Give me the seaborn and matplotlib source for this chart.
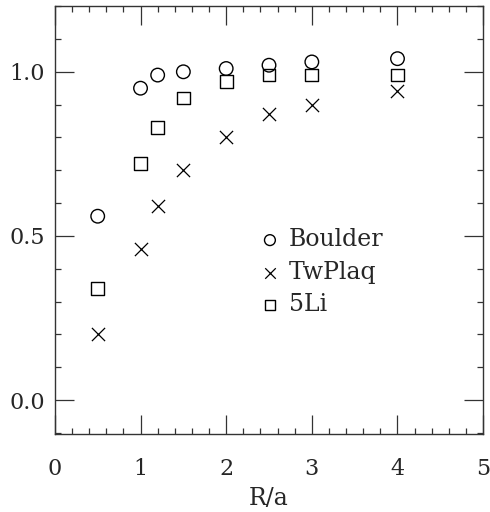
import numpy as np
import pandas as pd
import matplotlib
matplotlib.use('Agg')
import matplotlib.pyplot as plt
from matplotlib.ticker import MultipleLocator, FormatStrFormatter
import seaborn as sns

sns.set_style('ticks')
plt.rcParams['font.family'] = ['DejaVu Serif']

# data
r_over_a = [0.5, 1.0, 1.2, 1.5, 2.0, 2.5, 3.0, 4.0]
boulder = [0.56, 0.95, 0.99, 1.00, 1.01, 1.02, 1.03, 1.04]
twplaq = [0.20, 0.46, 0.59, 0.70, 0.80, 0.87, 0.90, 0.94]
li5 = [0.34, 0.72, 0.83, 0.92, 0.97, 0.99, 0.99, 0.99]
series_names = ['Boulder', 'TwPlaq', '5Li']

df = pd.DataFrame({
    'R/a': r_over_a * 3,
    'value': boulder + twplaq + li5,
    'series': np.repeat(series_names, len(r_over_a)),
})

fig = plt.figure(figsize=(4.9, 5.12), dpi=100)
ax = fig.add_axes([0.112, 0.152, 0.874, 0.836])

styles = {'Boulder': 'o', 'TwPlaq': 'x', '5Li': 's'}
for name in series_names:
    sub = df[df['series'] == name]
    m = styles[name]
    if m == 'x':
        sns.scatterplot(data=sub, x='R/a', y='value', marker='x', color='black',
                        s=90, linewidth=0.9, ax=ax, label=name)
    else:
        sns.scatterplot(data=sub, x='R/a', y='value', marker=m, facecolor='none',
                        edgecolor='black', s=95 if m == 'o' else 85,
                        linewidth=1.0, ax=ax, label=name)

ax.set_xlim(0, 5)
ax.set_ylim(-0.104, 1.2)
ax.xaxis.set_major_locator(MultipleLocator(1))
ax.xaxis.set_minor_locator(MultipleLocator(0.2))
ax.yaxis.set_major_locator(MultipleLocator(0.5))
ax.yaxis.set_minor_locator(MultipleLocator(0.1))
ax.yaxis.set_major_formatter(FormatStrFormatter('%.1f'))
ax.tick_params(which='both', direction='in', top=True, right=True,
               labelsize=16, color='#333333', width=0.9)
ax.tick_params(which='major', length=14)
ax.tick_params(which='minor', length=4)
ax.tick_params(axis='x', which='major', pad=17)
ax.tick_params(axis='y', which='major', pad=7)
for sp in ax.spines.values():
    sp.set_linewidth(1.0)
    sp.set_color('#333333')

ax.set_xlabel('R/a', fontsize=17, labelpad=5)
ax.set_ylabel('')

ax.legend(loc='upper left', bbox_to_anchor=(0.447, 0.503), frameon=False,
          fontsize=17, handletextpad=0.2, labelspacing=0.4,
          handlelength=1.2, markerscale=0.8, borderaxespad=0)

fig.savefig('out.png', dpi=100)
